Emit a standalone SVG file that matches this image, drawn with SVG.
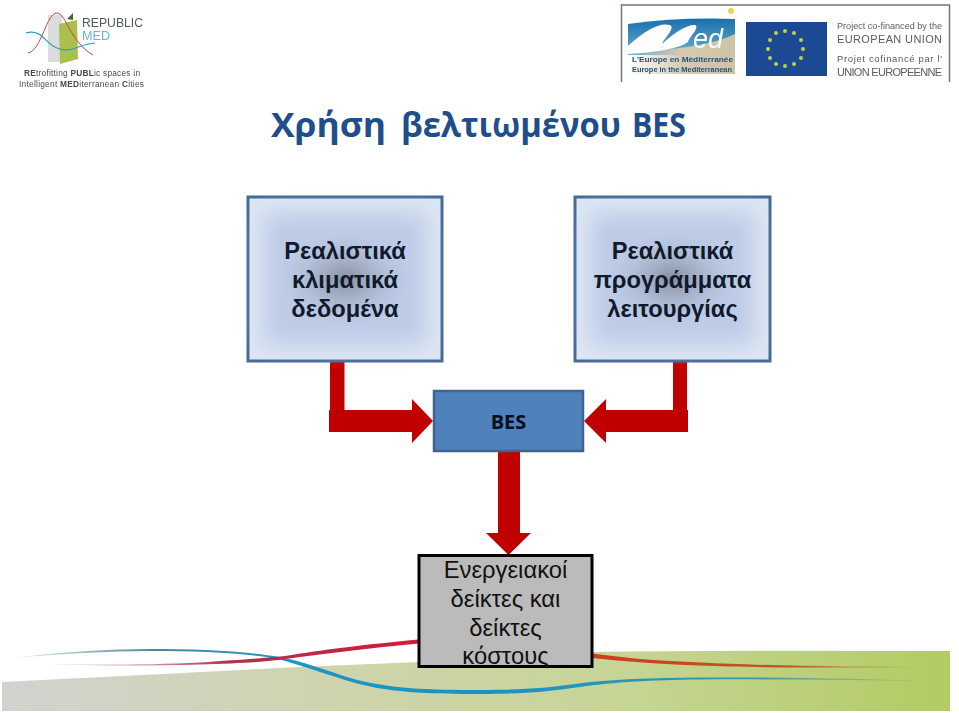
<svg xmlns="http://www.w3.org/2000/svg" width="959" height="713" viewBox="0 0 959 713">
<style>
.sans{font-family:"Liberation Sans",Arial,sans-serif}
.cal{font-family:"Open Sans","Noto Sans",sans-serif;font-weight:700}
.box{stroke:#466a94;stroke-width:3;fill:#dde6f4}
.lbl{font-size:23.700px;font-weight:700;fill:#111a2a;text-anchor:middle}
.arrow{fill:#c00000}
.lg{font-size:8.300px;fill:#4a4a4a}
.eu{fill:#5a5c60}
.mid{fill:#bccbe6;filter:url(#b14)}
</style>
<defs>
<filter id="b14" x="-30%" y="-30%" width="160%" height="160%"><feGaussianBlur stdDeviation="11"/></filter>
<filter id="soft" x="-5%" y="-5%" width="110%" height="110%"><feGaussianBlur stdDeviation="0.450"/></filter>
<radialGradient id="core" cx="50%" cy="50%" r="50%">
<stop offset="0" stop-color="#7f8591" stop-opacity=".85"/><stop offset=".45" stop-color="#9aa5bb" stop-opacity=".55"/><stop offset="1" stop-color="#bccbe6" stop-opacity="0"/>
</radialGradient>
<linearGradient id="band" x1="0" x2="1" y1="0" y2="0">
<stop offset="0" stop-color="#d2d2d0"/><stop offset=".35" stop-color="#cfd4ad"/><stop offset=".65" stop-color="#c6d596"/><stop offset="1" stop-color="#b2cb62"/>
</linearGradient>
<linearGradient id="blueL" x1="0" x2="1" y1="0" y2="0"><stop offset="0" stop-color="#7f9aa6" stop-opacity=".2"/><stop offset=".3" stop-color="#4d8a9a"/><stop offset=".6" stop-color="#1d96c4"/><stop offset="1" stop-color="#1793c9"/></linearGradient>
<linearGradient id="redL" x1="0" x2="1" y1="0" y2="0"><stop offset="0" stop-color="#b98a96" stop-opacity=".15"/><stop offset=".5" stop-color="#b0304a"/><stop offset="1" stop-color="#d01c38"/></linearGradient>
<linearGradient id="redR" x1="0" x2="1" y1="0" y2="0"><stop offset="0" stop-color="#d23a20"/><stop offset=".6" stop-color="#b85a20"/><stop offset="1" stop-color="#a58a40" stop-opacity=".25"/></linearGradient>
<linearGradient id="blueR" x1="0" x2="1" y1="0" y2="0"><stop offset="0" stop-color="#1793c9"/><stop offset=".6" stop-color="#3f96a0"/><stop offset="1" stop-color="#70a070" stop-opacity=".25"/></linearGradient>
<linearGradient id="medsky" x1="0" x2="0" y1="0" y2="1"><stop offset="0" stop-color="#1a6fae"/><stop offset="1" stop-color="#6aaecb"/></linearGradient>
<linearGradient id="sand" x1="0" x2="1" y1="0" y2="0"><stop offset="0" stop-color="#d6cbb0" stop-opacity="0"/><stop offset=".5" stop-color="#d6cbb0"/><stop offset="1" stop-color="#cfc3a6"/></linearGradient>
</defs>

<rect width="959" height="713" fill="#fff"/>

<g id="footer">
<path d="M2 682 L300 667 L419 662 L592 652 Q700 650 950 651 L950 711 L2 711Z" fill="url(#band)"/>
<path d="M12 658 C60 652 110 649 150 649 C200 649 245 651 280 657 C305 662 325 670 350 678 C390 689 430 690 480 690 L480 694 C430 694 385 693 345 680 C320 672 300 665 278 659 C245 653 200 651 150 651 C110 651 60 654 12 658Z" fill="url(#blueL)"/>
<path d="M480 690 C520 690 545 688 575 684 C610 679 650 678 700 677.500 C780 677 860 679 930 681 C860 680 780 679 700 679.500 C650 680 615 682 580 687 C545 692 520 694 480 694Z" fill="url(#blueR)"/>
<path d="M40 664 C90 665 150 665 200 662.500 C240 660 265 658 285 656 C320 650 370 644 419 639.500 L419 643.500 C370 648 325 654 285 659 C265 662 240 663.500 200 664.500 C150 666 90 666 40 664Z" fill="url(#redL)"/>
<path d="M592 653.500 C625 658 660 661 700 662.500 C760 665.500 850 667 930 667 C850 668 760 668 700 665.500 C660 664 625 661.500 592 658Z" fill="url(#redR)"/>
</g>

<g id="logo-republic-med" filter="url(#soft)">
<path d="M48 15 H62 V62 H48Z" fill="#dcdcdc"/>
<path d="M59 24 L77 20 L78 59 L60 64Z" fill="#a9c04e"/>
<path d="M67 19 L73 13 L73 20Z" fill="#3f6b35"/>
<path d="M28 53 C42 50 46 13 57 13 C66 13 70 42 93 55" fill="none" stroke="#c8434a" stroke-width="1"/>
<path d="M26 33 C42 28 46 45 57 48 C72 54 78 44 95 43" fill="none" stroke="#2a9ac9" stroke-width="1.200"/>
<text x="82" y="27" class="sans" font-size="12" fill="#4d5a55" textLength="61" lengthAdjust="spacingAndGlyphs">REPUBLIC</text>
<text x="82" y="40" class="sans" font-size="12" fill="#6cb6d4" textLength="28" lengthAdjust="spacingAndGlyphs">MED</text>
<text x="24" y="76" class="sans lg" textLength="116"><tspan font-weight="700">RE</tspan>trofitting <tspan font-weight="700">PUBL</tspan>ic spaces in</text>
<text x="19" y="87" class="sans lg" textLength="125">Intelligent <tspan font-weight="700">MED</tspan>iterranean <tspan font-weight="700">C</tspan>ities</text>
</g>

<g id="logo-eu" filter="url(#soft)">
<path d="M621.500 82 V5 H949.500 V82" fill="none" stroke="#6d7680" stroke-width="1.500"/>
<path d="M628 24 Q680 17 735 19 V55 H628Z" fill="url(#medsky)"/>
<path d="M628 52 C680 50 715 44 735 34 V74 H628Z" fill="url(#sand)"/>
<path d="M628 54 V46 C645 30 660 22 670 25 C676 28 664 38 662 44 C675 32 688 24 695 25 C700 28 690 36 688 42 C680 48 660 52 628 54Z" fill="#fff"/>
<text x="693" y="48" class="sans" font-size="27" font-style="italic" fill="#fff">ed</text>
<circle cx="731" cy="11" r="3" fill="#e8d84a"/>
<text x="632" y="62" class="sans" font-size="8" font-weight="700" fill="#23527f" textLength="101" lengthAdjust="spacingAndGlyphs">L'Europe en Méditerranée</text>
<text x="632" y="72" class="sans" font-size="8" font-weight="700" fill="#23527f" textLength="100" lengthAdjust="spacingAndGlyphs">Europe in the Mediterranean</text>
<rect x="746" y="22" width="81" height="54" fill="#1a4a94"/>
<g fill="#c2d13c">
<circle cx="785" cy="31" r="2"/><circle cx="794" cy="33" r="2"/><circle cx="801" cy="40" r="2"/><circle cx="803" cy="49" r="2"/><circle cx="801" cy="58" r="2"/><circle cx="794" cy="64" r="2"/><circle cx="785" cy="66" r="2"/><circle cx="776" cy="64" r="2"/><circle cx="770" cy="58" r="2"/><circle cx="768" cy="49" r="2"/><circle cx="770" cy="40" r="2"/><circle cx="776" cy="33" r="2"/>
</g>
<text x="837" y="29" class="sans eu" font-size="9.500" textLength="105" lengthAdjust="spacingAndGlyphs">Project co-financed by the</text>
<text x="837" y="43" class="sans eu" font-size="11" textLength="105">EUROPEAN UNION</text>
<text x="837" y="62" class="sans eu" font-size="9.500" textLength="105">Projet cofinancé par l'</text>
<text x="837" y="76" class="sans eu" font-size="11" textLength="105">UNION EUROPEENNE</text>
</g>

<text id="title" y="137" class="cal" font-size="34" fill="#1f4e8c"><tspan x="271" textLength="115" lengthAdjust="spacingAndGlyphs">Χρήση</tspan><tspan x="401" textLength="220" lengthAdjust="spacingAndGlyphs">βελτιωμένου</tspan><tspan x="632" textLength="54" lengthAdjust="spacingAndGlyphs">BES</tspan></text>

<g id="connectors">
<path class="arrow" d="M330 361 H344.500 V410 H412 V399 L433 421 L412 443 V432 H329 V410 H330Z"/>
<path class="arrow" d="M673 361 H687 V410 H688 V432 H606 V443 L584 421 L606 399 V410 H673Z"/>
<path class="arrow" d="M498 451 H520 V533 H531 L508.500 555 L486 533 H498Z"/>
</g>

<g id="node-climate">
<rect class="box" x="248" y="197" width="194" height="164"/>
<rect class="mid" x="264" y="213" width="162" height="132"/>
<ellipse cx="345" cy="279" rx="70" ry="50" fill="url(#core)"/>
<text class="sans lbl" x="345" y="259">Ρεαλιστικά</text>
<text class="sans lbl" x="345" y="288">κλιματικά</text>
<text class="sans lbl" x="345" y="317">δεδομένα</text>
</g>
<g id="node-schedules">
<rect class="box" x="575" y="197" width="195" height="164"/>
<rect class="mid" x="591" y="213" width="163" height="132"/>
<ellipse cx="672.500" cy="279" rx="70" ry="50" fill="url(#core)"/>
<text class="sans lbl" x="672.500" y="259">Ρεαλιστικά</text>
<text class="sans lbl" x="672.500" y="288">προγράμματα</text>
<text class="sans lbl" x="672.500" y="317">λειτουργίας</text>
</g>
<g id="node-bes">
<rect x="434" y="391" width="149" height="60" fill="#4f81bd" stroke="#41648f" stroke-width="2.500"/>
<text x="508.500" y="429" class="cal" font-size="20" fill="#0a0f1c" text-anchor="middle">BES</text>
</g>
<g id="node-indicators">
<rect x="419" y="555.500" width="173" height="111" fill="#bbbbbb" stroke="#000" stroke-width="3"/>
<g class="sans" font-size="23.800" fill="#111" text-anchor="middle">
<text x="505.500" y="578">Ενεργειακοί</text>
<text x="505.500" y="607">δείκτες και</text>
<text x="505.500" y="636">δείκτες</text>
<text x="505.500" y="664">κόστους</text>
</g>
</g>
</svg>
